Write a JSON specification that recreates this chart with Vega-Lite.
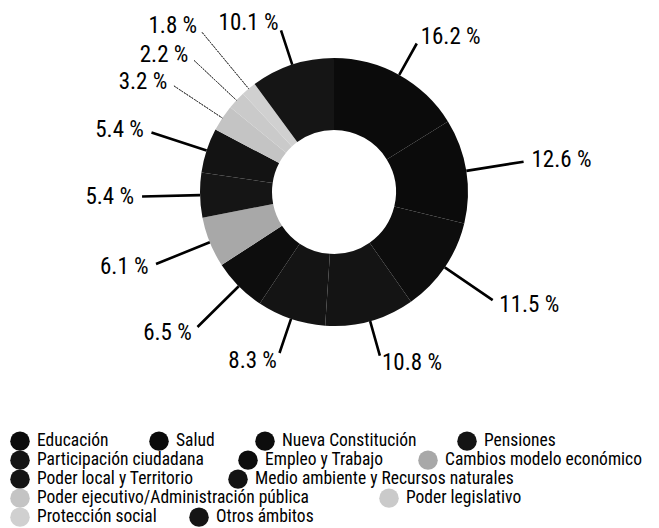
{
  "$schema": "https://vega.github.io/schema/vega-lite/v6.json",
  "width": 648,
  "height": 384,
  "autosize": {"type": "none"},
  "padding": {"left": 10, "top": 0, "right": 1, "bottom": 144},
  "background": "white",
  "config": {
    "view": {"stroke": null},
    "font": "Roboto Condensed, Roboto",
    "legend": {
      "orient": "none",
      "direction": "horizontal",
      "padding": 0,
      "symbolType": "circle",
      "symbolSize": 380,
      "symbolStrokeWidth": 0,
      "labelFont": "Roboto Condensed, Roboto",
      "labelFontSize": 17.5,
      "labelColor": "black",
      "labelOffset": 7,
      "labelLimit": 400
    }
  },
  "data": {
    "values": [
      {"tema": "Educación", "valor": 16.2},
      {"tema": "Salud", "valor": 12.6},
      {"tema": "Nueva Constitución", "valor": 11.5},
      {"tema": "Pensiones", "valor": 10.8},
      {"tema": "Participación ciudadana", "valor": 8.3},
      {"tema": "Empleo y Trabajo", "valor": 6.5},
      {"tema": "Cambios modelo económico", "valor": 6.1},
      {"tema": "Poder local y Territorio", "valor": 5.4},
      {"tema": "Medio ambiente y Recursos naturales", "valor": 5.4},
      {"tema": "Poder ejecutivo/Administración pública", "valor": 3.2},
      {"tema": "Poder legislativo", "valor": 2.2},
      {"tema": "Protección social", "valor": 1.8},
      {"tema": "Otros ámbitos", "valor": 10.1}
    ]
  },
  "transform": [
    {"joinaggregate": [{"op": "sum", "field": "valor", "as": "total"}]},
    {"window": [{"op": "sum", "field": "valor", "as": "acum"}], "frame": [null, 0]},
    {"calculate": "datum.acum / datum.total", "as": "fin"},
    {"calculate": "(datum.acum - datum.valor) / datum.total", "as": "inicio"},
    {"calculate": "(datum.acum - datum.valor / 2) / datum.total", "as": "medio"},
    {"calculate": "format(datum.valor, '.1f') + ' %'", "as": "etiqueta"},
    {"calculate": "datum.medio < 0.1 || datum.medio > 0.9 || (datum.medio > 0.42 && datum.medio < 0.58)", "as": "vertical"},
    {"calculate": "indexof(['Poder ejecutivo/Administración pública', 'Poder legislativo', 'Protección social'], datum.tema) >= 0", "as": "claro"},
    {"calculate": "datum.tema === 'Protección social'", "as": "exterior"}
  ],
  "resolve": {"scale": {"color": "independent"}, "legend": {"color": "independent"}},
  "layer": [
    {
      "transform": [{"filter": {"field": "tema", "oneOf": ["Educación", "Salud", "Nueva Constitución", "Pensiones"]}}],
      "mark": {"type": "arc", "innerRadius": 62, "outerRadius": 134},
      "encoding": {
        "theta": {"field": "inicio", "type": "quantitative", "scale": {"domain": [0, 1]}},
        "theta2": {"field": "fin"},
        "color": {"field": "tema", "type": "nominal",
          "scale": {"domain": ["Educación", "Salud", "Nueva Constitución", "Pensiones"], "range": ["#0b0b0b", "#0b0b0b", "#0d0d0d", "#141414"]},
          "legend": {"title": null, "legendX": 0, "legendY": 431, "columnPadding": 40}}
      }
    },
    {
      "transform": [{"filter": {"field": "tema", "oneOf": ["Participación ciudadana", "Empleo y Trabajo", "Cambios modelo económico"]}}],
      "mark": {"type": "arc", "innerRadius": 62, "outerRadius": 134},
      "encoding": {
        "theta": {"field": "inicio", "type": "quantitative", "scale": {"domain": [0, 1]}},
        "theta2": {"field": "fin"},
        "color": {"field": "tema", "type": "nominal",
          "scale": {"domain": ["Participación ciudadana", "Empleo y Trabajo", "Cambios modelo económico"], "range": ["#141414", "#0d0d0d", "#a8a8a8"]},
          "legend": {"title": null, "legendX": 0, "legendY": 450, "columnPadding": 34}}
      }
    },
    {
      "transform": [{"filter": {"field": "tema", "oneOf": ["Poder local y Territorio", "Medio ambiente y Recursos naturales"]}}],
      "mark": {"type": "arc", "innerRadius": 62, "outerRadius": 134},
      "encoding": {
        "theta": {"field": "inicio", "type": "quantitative", "scale": {"domain": [0, 1]}},
        "theta2": {"field": "fin"},
        "color": {"field": "tema", "type": "nominal",
          "scale": {"domain": ["Poder local y Territorio", "Medio ambiente y Recursos naturales"], "range": ["#151515", "#131313"]},
          "legend": {"title": null, "legendX": 0, "legendY": 469, "columnPadding": 34}}
      }
    },
    {
      "transform": [{"filter": {"field": "tema", "oneOf": ["Poder ejecutivo/Administración pública", "Poder legislativo"]}}],
      "mark": {"type": "arc", "innerRadius": 62, "outerRadius": 134},
      "encoding": {
        "theta": {"field": "inicio", "type": "quantitative", "scale": {"domain": [0, 1]}},
        "theta2": {"field": "fin"},
        "color": {"field": "tema", "type": "nominal",
          "scale": {"domain": ["Poder ejecutivo/Administración pública", "Poder legislativo"], "range": ["#c4c4c4", "#cacaca"]},
          "legend": {"title": null, "legendX": 0, "legendY": 488, "columnPadding": 70}}
      }
    },
    {
      "transform": [{"filter": {"field": "tema", "oneOf": ["Protección social", "Otros ámbitos"]}}],
      "mark": {"type": "arc", "innerRadius": 62, "outerRadius": 134},
      "encoding": {
        "theta": {"field": "inicio", "type": "quantitative", "scale": {"domain": [0, 1]}},
        "theta2": {"field": "fin"},
        "color": {"field": "tema", "type": "nominal",
          "scale": {"domain": ["Protección social", "Otros ámbitos"], "range": ["#d0d0d0", "#151515"]},
          "legend": {"title": null, "legendX": 0, "legendY": 507, "columnPadding": 32}}
      }
    },
    {
      "transform": [{"filter": "datum.vertical"}],
      "mark": {"type": "arc", "innerRadius": 134, "outerRadius": 170, "stroke": "black", "strokeWidth": 2.6, "fill": "black", "fillOpacity": 0},
      "encoding": {
        "theta": {"field": "medio", "type": "quantitative", "scale": {"domain": [0, 1]}},
        "theta2": {"field": "medio"}
      }
    },
    {
      "transform": [{"filter": "!datum.vertical && !datum.claro"}],
      "mark": {"type": "arc", "innerRadius": 134, "outerRadius": 192, "stroke": "black", "strokeWidth": 2.6, "fill": "black", "fillOpacity": 0},
      "encoding": {
        "theta": {"field": "medio", "type": "quantitative", "scale": {"domain": [0, 1]}},
        "theta2": {"field": "medio"}
      }
    },
    {
      "transform": [{"filter": "datum.claro && !datum.exterior"}],
      "mark": {"type": "arc", "innerRadius": 134, "outerRadius": 192, "stroke": "#444444", "strokeWidth": 1, "strokeDash": [2, 1], "fill": "black", "fillOpacity": 0},
      "encoding": {
        "theta": {"field": "medio", "type": "quantitative", "scale": {"domain": [0, 1]}},
        "theta2": {"field": "medio"}
      }
    },
    {
      "transform": [{"filter": "datum.exterior"}],
      "mark": {"type": "arc", "innerRadius": 134, "outerRadius": 207, "stroke": "#444444", "strokeWidth": 1, "strokeDash": [2, 1], "fill": "black", "fillOpacity": 0},
      "encoding": {
        "theta": {"field": "medio", "type": "quantitative", "scale": {"domain": [0, 1]}},
        "theta2": {"field": "medio"}
      }
    },
    {
      "transform": [{"filter": "datum.medio > 0.5 && datum.vertical"}],
      "mark": {"type": "text", "radius": 178, "align": "right", "baseline": "middle", "fontSize": 23, "color": "black"},
      "encoding": {
        "theta": {"field": "medio", "type": "quantitative", "scale": {"domain": [0, 1]}},
        "text": {"field": "etiqueta"}
      }
    },
    {
      "transform": [{"filter": "datum.medio <= 0.5 && datum.vertical"}],
      "mark": {"type": "text", "radius": 178, "align": "left", "baseline": "middle", "fontSize": 23, "color": "black"},
      "encoding": {
        "theta": {"field": "medio", "type": "quantitative", "scale": {"domain": [0, 1]}},
        "text": {"field": "etiqueta"}
      }
    },
    {
      "transform": [{"filter": "datum.medio > 0.5 && !datum.vertical && !datum.exterior"}],
      "mark": {"type": "text", "radius": 200, "align": "right", "baseline": "middle", "fontSize": 23, "color": "black"},
      "encoding": {
        "theta": {"field": "medio", "type": "quantitative", "scale": {"domain": [0, 1]}},
        "text": {"field": "etiqueta"}
      }
    },
    {
      "transform": [{"filter": "datum.exterior"}],
      "mark": {"type": "text", "radius": 215, "align": "right", "baseline": "middle", "fontSize": 23, "color": "black"},
      "encoding": {
        "theta": {"field": "medio", "type": "quantitative", "scale": {"domain": [0, 1]}},
        "text": {"field": "etiqueta"}
      }
    },
    {
      "transform": [{"filter": "datum.medio <= 0.5 && !datum.vertical"}],
      "mark": {"type": "text", "radius": 200, "align": "left", "baseline": "middle", "fontSize": 23, "color": "black"},
      "encoding": {
        "theta": {"field": "medio", "type": "quantitative", "scale": {"domain": [0, 1]}},
        "text": {"field": "etiqueta"}
      }
    }
  ]
}
